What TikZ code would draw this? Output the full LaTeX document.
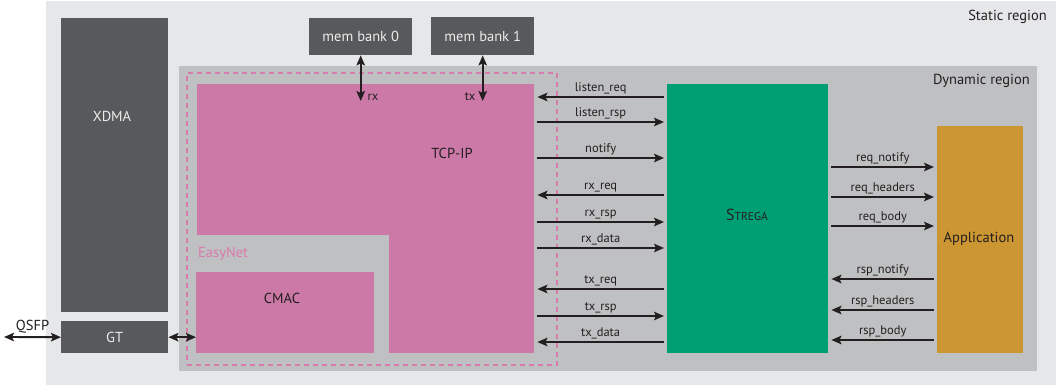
\documentclass[tikz,border=0pt]{standalone}
\usepackage{fontspec}
\setmainfont{PT Sans}
\usetikzlibrary{arrows.meta}
\definecolor{staticc}{HTML}{E6E7E9}
\definecolor{dync}{HTML}{BFC0C2}
\definecolor{darkc}{HTML}{58595B}
\definecolor{pinkc}{HTML}{CC79A7}
\definecolor{dashc}{HTML}{D87AAC}
\definecolor{greenc}{HTML}{009E73}
\definecolor{orangec}{HTML}{CC9633}
\definecolor{txtc}{HTML}{231F20}
\definecolor{whtc}{HTML}{ECECEC}
\begin{document}
\begin{tikzpicture}[x=1pt,y=-1pt,
  box/.style={draw=none,inner sep=0pt,anchor=north west},
  big/.style={font=\fontsize{14.5}{16}\selectfont,text=txtc,inner sep=0pt},
  bigw/.style={font=\fontsize{14.5}{16}\selectfont,text=whtc,inner sep=0pt},
  small/.style={font=\fontsize{12.5}{14}\selectfont,text=txtc,inner sep=1.5pt},
  tip/.style={Stealth[length=10pt,width=8.5pt,inset=2pt]},
  rt/.style={-{Stealth[length=10pt,width=8.5pt,inset=2pt]},line width=1.9pt,draw=txtc,shorten <=3pt,shorten >=3pt},
  lt/.style={{Stealth[length=10pt,width=8.5pt,inset=2pt]}-,line width=1.9pt,draw=txtc,shorten <=3pt,shorten >=3pt},
  dbl/.style={{Stealth[length=10pt,width=8.5pt,inset=2pt]}-{Stealth[length=10pt,width=8.5pt,inset=2pt]},line width=1.9pt,draw=txtc},
  lbl/.style={small,above,midway}]
\useasboundingbox (0,0) rectangle (1058,385);
% regions
\node[box,fill=staticc,minimum width=1010pt,minimum height=384pt] (static) at (46,1) {};
\node[big,anchor=east] (statlbl) at (1047,17) {Static region};
\node[box,fill=dync,minimum width=858pt,minimum height=305pt] (dyn) at (179,66) {};
\node[big,anchor=east] (dynlbl) at (1030,81) {Dynamic region};
% static blocks
\node[box,fill=darkc,minimum width=107pt,minimum height=294pt] (xdma) at (61,18) {};
\node[bigw] (xdmalbl) at (112,116) {XDMA};
\node[box,fill=darkc,minimum width=107pt,minimum height=32pt] (gt) at (61,321) {};
\node[bigw] (gtlbl) at (gt.center) {GT};
\node[box,fill=darkc,minimum width=103pt,minimum height=37pt] (mb0) at (309,18) {};
\node[bigw] (mb0lbl) at (mb0.center) {mem bank 0};
\node[box,fill=darkc,minimum width=103pt,minimum height=38pt] (mb1) at (431,17) {};
\node[bigw] (mb1lbl) at (mb1.center) {mem bank 1};
% EasyNet
\node[box,draw=dashc,dash pattern=on 5pt off 4pt,line width=2.4pt,minimum width=370pt,minimum height=292pt] (easynet) at (186,72) {};
\node[box,fill=pinkc,minimum width=337pt,minimum height=269pt] (tcp) at (197,84) {};
\fill[dync] (196,235) rectangle (389,353.5);
\node[box,fill=pinkc,minimum width=178pt,minimum height=81pt] (cmac) at (196,272) {};
\node[big] (tcplbl) at (452,153) {TCP-IP};
\node[big] (cmaclbl) at (282,298) {CMAC};
\node[big,text=dashc,anchor=west] (enlbl) at (198,254) {EasyNet};
% Strega and application
\node[box,fill=greenc,minimum width=161pt,minimum height=269pt] (strega) at (667,84) {};
\node[big] (strlbl) at (747,215) {{\fontsize{16}{18}\selectfont S}{\fontsize{11.5}{13}\selectfont TREGA}};
\node[box,fill=orangec,minimum width=86pt,minimum height=227pt] (app) at (937,126) {};
\node[big] (applbl) at (979,239) {Application};
% memory arrows
\coordinate (memend) at (0,101);
\draw[dbl] (mb0.south) -- (mb0.south |- memend) coordinate (rxe);
\node[small,anchor=west] (rxlbl) at (366,97) {rx};
\draw[dbl] (mb1.south) -- (mb1.south |- memend) coordinate (txe);
\node[small,anchor=east] (txlbl) at (477,97) {tx};
% QSFP / GT
\coordinate (qsfp) at (4,337);
\draw[dbl] (qsfp) -- (gt.west) node[midway,above,big,inner sep=3pt] {QSFP};
\draw[dbl] (gt.east) -- (cmac.west |- gt.east);
% TCP <-> Strega
\draw[lt] ([yshift=-13pt]tcp.north east) -- node[lbl]{listen\_req} ([yshift=-13pt]strega.north west);
\draw[rt] ([yshift=-38pt]tcp.north east) -- node[lbl]{listen\_rsp} ([yshift=-38pt]strega.north west);
\draw[rt] ([yshift=-74pt]tcp.north east) -- node[lbl]{notify} ([yshift=-74pt]strega.north west);
\draw[lt] ([yshift=-111pt]tcp.north east) -- node[lbl]{rx\_req} ([yshift=-111pt]strega.north west);
\draw[rt] ([yshift=-138pt]tcp.north east) -- node[lbl]{rx\_rsp} ([yshift=-138pt]strega.north west);
\draw[rt] ([yshift=-164pt]tcp.north east) -- node[lbl]{rx\_data} ([yshift=-164pt]strega.north west);
\draw[lt] ([yshift=-205pt]tcp.north east) -- node[lbl]{tx\_req} ([yshift=-205pt]strega.north west);
\draw[rt] ([yshift=-232pt]tcp.north east) -- node[lbl]{tx\_rsp} ([yshift=-232pt]strega.north west);
\draw[lt] ([yshift=-258pt]tcp.north east) -- node[lbl]{tx\_data} ([yshift=-258pt]strega.north west);
% Strega <-> Application
\draw[rt] ([yshift=-83pt]strega.north east) coordinate (a1) -- node[lbl]{req\_notify} (app.west |- a1);
\draw[rt] ([yshift=-113pt]strega.north east) coordinate (a2) -- node[lbl]{req\_headers} (app.west |- a2);
\draw[rt] ([yshift=-142pt]strega.north east) coordinate (a3) -- node[lbl]{req\_body} (app.west |- a3);
\draw[lt] ([yshift=-195pt]strega.north east) coordinate (a4) -- node[lbl]{rsp\_notify} (app.west |- a4);
\draw[lt] ([yshift=-226pt]strega.north east) coordinate (a5) -- node[lbl]{rsp\_headers} (app.west |- a5);
\draw[lt] ([yshift=-256pt]strega.north east) coordinate (a6) -- node[lbl]{rsp\_body} (app.west |- a6);
\end{tikzpicture}
\end{document}
